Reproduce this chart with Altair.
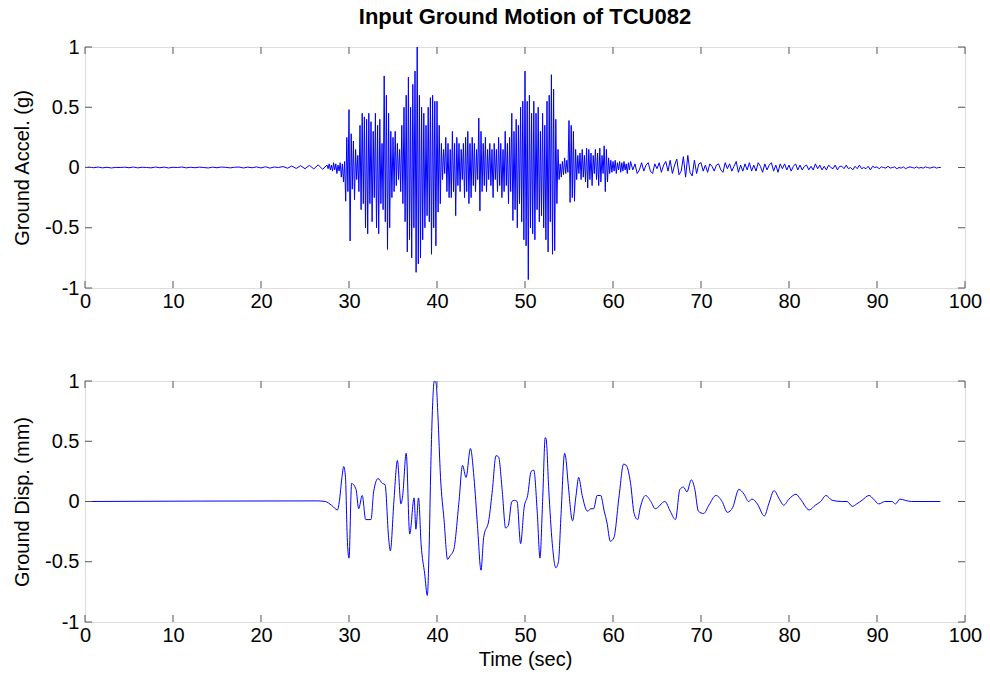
import altair as alt
import numpy as np
import pandas as pd

FONT = "Liberation Sans"

# ---- Ground acceleration (g) ----
# 0 .. 27.0 s, sampled every 0.5 s
acc_pre = [0.0, 0.003, -0.002, 0.004, -0.003, 0.002, -0.004, 0.001, 0.0, 0.003,
           -0.002, 0.004, -0.003, 0.002, 0.0, -0.003, 0.004, -0.002, 0.003, -0.004,
           0.002, 0.0, 0.004, -0.003, 0.002, -0.002, 0.003, 0.0, -0.004, 0.003,
           -0.002, 0.004, 0.001, -0.003, 0.002, 0.004, -0.004, 0.003, -0.002, 0.005,
           -0.004, 0.006, -0.005, 0.004, 0.0, 0.008, -0.006, 0.012, -0.008, 0.015,
           -0.01, 0.018, -0.012, 0.022, -0.015]
# 27.5 .. 61.875 s, sampled every 0.125 s
acc_main = [0.02, -0.01, 0.03, -0.02,
            0.02, -0.03, 0.04, -0.02, 0.03, -0.05, 0.02, -0.03,
            0.04, -0.08, 0.03, -0.12, 0.05, -0.28, 0.25, -0.2,
            0.48, -0.61, 0.28, -0.18, 0.22, -0.27, 0.15, -0.1,
            0.1, -0.2, 0.35, -0.35, 0.45, -0.3, 0.42, -0.5,
            0.4, -0.55, 0.45, -0.3, 0.38, -0.45, 0.3, -0.25,
            0.45, -0.5, 0.35, -0.55, 0.4, -0.3, 0.2, -0.35,
            0.76, -0.45, 0.6, -0.68, 0.45, -0.5, 0.3, -0.25,
            0.25, -0.2, 0.3, -0.15, 0.2, -0.1, 0.15, -0.2,
            0.35, -0.3, 0.5, -0.45, 0.6, -0.7, 0.75, -0.6,
            0.5, -0.75, 0.69, -0.5, 0.8, -0.87, 1.0, -0.8,
            0.6, -0.75, 0.5, -0.6, 0.45, -0.5, 0.35, -0.4,
            0.5, -0.45, 0.58, -0.72, 0.6, -0.5, 0.55, -0.65,
            0.55, -0.37, 0.35, -0.3, 0.2, -0.1, 0.15, -0.05,
            0.25, -0.2, 0.2, -0.25, 0.15, -0.25, 0.3, -0.2,
            0.2, -0.4, 0.25, -0.15, 0.2, -0.2, 0.15, -0.1,
            0.2, -0.25, 0.25, -0.2, 0.3, -0.3, 0.2, -0.25,
            0.25, -0.15, 0.2, -0.2, 0.15, -0.1, 0.41, -0.36,
            0.3, -0.2, 0.2, -0.15, 0.25, -0.2, 0.15, -0.1,
            0.2, -0.15, 0.15, -0.25, 0.2, -0.1, 0.15, -0.2,
            0.25, -0.15, 0.2, -0.25, 0.15, -0.2, 0.3, -0.15,
            0.2, -0.3, 0.25, -0.2, 0.45, -0.44, 0.3, -0.35,
            0.4, -0.5, 0.35, -0.3, 0.5, -0.45, 0.55, -0.6,
            0.8, -0.65, 0.55, -0.93, 0.6, -0.5, 0.45, -0.55,
            0.55, -0.6, 0.45, -0.35, 0.5, -0.45, 0.3, -0.4,
            0.45, -0.5, 0.35, -0.6, 0.55, -0.7, 0.6, -0.45,
            0.77, -0.72, 0.65, -0.69, 0.4, -0.3, 0.15, -0.1,
            0.03, -0.08, 0.05, -0.06, 0.08, -0.05, 0.06, -0.04,
            0.39, -0.29, 0.35, -0.25, 0.3, -0.28, 0.15, -0.1,
            0.1, -0.05, 0.12, -0.1, 0.15, -0.08, 0.1, -0.12,
            0.16, -0.17, 0.15, -0.1, 0.12, -0.15, 0.1, -0.05,
            0.15, -0.1, 0.12, -0.15, 0.16, -0.12, 0.1, -0.05,
            0.18, -0.2, 0.15, -0.12, 0.08, -0.05, 0.06, -0.04,
            0.05, -0.03, 0.06, -0.05, 0.04, -0.02, 0.05, -0.04,
            0.04, -0.03, 0.05, -0.02, 0.03, -0.05, 0.04, -0.02]
# 62.0 .. 97.25 s, sampled every 0.25 s
acc_tail = [0.05, -0.02, 0.03, -0.05, -0.02, 0.04, -0.03, 0.02,
            0.04, -0.03, -0.05, 0.03, -0.01, 0.04, -0.04, 0.02,
            0.05, -0.03, 0.06, -0.05, 0.02, 0.07, -0.06, -0.03,
            0.09, -0.08, 0.1, -0.04, -0.07, 0.06, -0.05, 0.03,
            0.04, -0.03, 0.02, -0.04, 0.03, 0.01, -0.03, 0.02,
            0.03, -0.02, -0.04, 0.04, -0.01, 0.03, -0.03, 0.01,
            0.05, -0.04, 0.02, -0.03, 0.03, -0.02, 0.04, -0.03,
            0.02, -0.03, 0.04, 0.01, -0.04, 0.03, -0.02, 0.02,
            0.04, -0.03, 0.02, -0.04, 0.03, -0.01, 0.03, -0.02,
            0.02, -0.03, 0.01, 0.03, -0.02, 0.02, -0.02, 0.01,
            0.02, -0.02, 0.01, -0.02, 0.03, -0.01, 0.02, -0.02,
            0.01, -0.02, 0.02, 0.0, -0.01, 0.02, -0.02, 0.01,
            0.01, -0.01, 0.02, -0.01, 0.0, -0.02, 0.01, -0.01,
            0.02, -0.01, 0.0, -0.01, 0.01, -0.02, 0.01, 0.0,
            0.005, -0.01, 0.005, 0.0, -0.005, 0.01, -0.005, 0.0,
            0.005, -0.01, 0.0, -0.005, 0.005, -0.01, 0.0, 0.005,
            0.0, -0.005, 0.005, -0.005, 0.0, -0.005, 0.005, 0.0,
            -0.005, 0.0, 0.005, -0.005, 0.0, 0.0]

# ---- Ground displacement (mm) ----
disp_t = [0, 26.4, 27.3, 28.0, 28.7, 28.9, 29.2, 29.4, 29.6, 29.8,
          30.0, 30.3, 30.8, 31.1, 31.5, 31.9, 32.5, 32.8, 33.3, 33.8,
          34.1, 34.5, 34.7, 35.1, 35.5, 35.9, 36.1, 36.5, 36.9, 37.4,
          37.6, 37.9, 38.2, 38.6, 38.9, 39.1, 39.3, 39.5, 39.7, 39.9,
          40.1, 40.4, 40.8, 41.2, 41.5, 41.9, 42.5, 42.9, 43.3, 43.8,
          44.2, 44.6, 45.0, 45.3, 45.9, 46.3, 46.7, 47.0, 47.4, 47.8,
          48.1, 48.5, 48.8, 49.1, 49.5, 49.9, 50.3, 50.7, 51.0, 51.4,
          51.7, 52.0, 52.3, 52.4, 52.7, 53.1, 53.5, 53.8, 54.1, 54.5,
          54.6, 54.9, 55.4, 55.8, 56.1, 56.5, 57.1, 57.5, 57.8, 58.2,
          58.6, 59.0, 59.3, 59.7, 60.1, 60.7, 61.2, 61.5, 62.0, 62.4,
          62.8, 63.1, 63.7, 64.3, 64.8, 65.9, 66.5, 67.1, 67.6, 68.0,
          68.4, 68.9, 69.3, 69.7, 70.3, 70.9, 71.7, 72.4, 73.0, 73.6,
          74.3, 74.9, 75.4, 75.8, 76.4, 77.2, 77.7, 78.3, 78.9, 79.4,
          80.0, 80.8, 81.3, 82.3, 83.0, 83.6, 84.2, 84.9, 86.0, 86.6,
          87.2, 87.7, 88.3, 89.1, 89.6, 90.2, 90.9, 91.7, 92.1, 92.6,
          93.2, 93.9, 95.0, 97.2]
disp_v = [0.0, 0.005, 0.0, -0.03, -0.07, 0.0, 0.2, 0.29, 0.2, -0.3,
          -0.47, 0.15, 0.1, -0.06, 0.05, -0.15, -0.15, 0.08, 0.19, 0.15,
          0.14, -0.3, -0.41, 0.0, 0.34, -0.02, 0.05, 0.4, -0.27, 0.03,
          -0.23, 0.03, -0.36, -0.6, -0.78, -0.4, 0.3, 0.8, 1.0, 0.98,
          0.72, 0.2, -0.15, -0.48, -0.45, -0.4, 0.0, 0.3, 0.2, 0.44,
          0.2, -0.2, -0.57, -0.3, -0.15, 0.1, 0.38, 0.37, 0.1, -0.22,
          -0.2, 0.0, 0.01, 0.0, -0.35, -0.05, 0.05, 0.25, 0.26, -0.1,
          -0.47, 0.0, 0.53, 0.52, 0.1, -0.35, -0.55, -0.5, -0.1, 0.4,
          0.38, 0.15, -0.16, 0.05, 0.2, 0.05, -0.08, -0.06, -0.06, 0.05,
          0.05, -0.08, -0.17, -0.33, -0.3, 0.05, 0.31, 0.3, 0.15, -0.1,
          -0.15, -0.05, 0.05, 0.0, -0.06, 0.0, -0.08, -0.15, 0.1, 0.12,
          0.08, 0.18, 0.1, -0.08, -0.1, -0.03, 0.05, 0.0, -0.09, -0.05,
          0.1, 0.06, 0.0, 0.02, -0.02, -0.12, -0.02, 0.09, 0.02, -0.03,
          0.02, 0.06, 0.02, -0.07, -0.03, 0.0, 0.05, 0.01, 0.0, 0.0,
          -0.04, -0.02, 0.01, 0.05, 0.02, -0.02, 0.0, 0.0, -0.02, 0.02,
          0.01, 0.0, 0.0, 0.0]

x_ticks = [0, 10, 20, 30, 40, 50, 60, 70, 80, 90, 100]
y_ticks = [-1, -0.5, 0, 0.5, 1]

# time stamps of the acceleration record (three sampling segments)
acc_t = np.concatenate([
    0.0 + 0.5 * np.arange(len(acc_pre)),
    27.5 + 0.125 * np.arange(len(acc_main)),
    62.0 + 0.25 * np.arange(len(acc_tail)),
])
acc_df = pd.DataFrame({"t": acc_t, "v": acc_pre + acc_main + acc_tail})
disp_df = pd.DataFrame({"t": disp_t, "v": disp_v})
xt_df = pd.DataFrame({"t": x_ticks})
yt_df = pd.DataFrame({"v": y_ticks})

W, H = 880, 241
TICK = 7
LBL = 20


def panel(df, ytitle, xtitle, interp, title=None):
    xaxis = alt.Axis(values=x_ticks, ticks=False, domain=False, grid=False,
                     labelFont=FONT, labelFontSize=LBL, labelColor="black",
                     labelPadding=3, labelFlush=False, labelExpr="'' + datum.value",
                     title=xtitle if xtitle else "", titleFont=FONT, titleFontSize=LBL,
                     titleFontWeight="normal", titleColor="black", titlePadding=4)
    yaxis = alt.Axis(values=y_ticks, ticks=False, domain=False, grid=False,
                     labelFont=FONT, labelFontSize=LBL, labelColor="black",
                     labelPadding=6, labelFlush=False, labelExpr="'' + datum.value",
                     title=ytitle, titleFont=FONT, titleFontSize=LBL,
                     titleFontWeight="normal", titleColor="black", titlePadding=12)
    xs = alt.Scale(domain=[0, 100], nice=False, zero=False)
    ys = alt.Scale(domain=[-1, 1], nice=False, zero=False)
    line = alt.Chart(df).mark_line(color="#0000ff", strokeWidth=1, clip=True,
                                   interpolate=interp).encode(
        x=alt.X("t:Q", scale=xs, axis=xaxis),
        y=alt.Y("v:Q", scale=ys, axis=yaxis),
    )
    tk = dict(color="#555555", strokeWidth=1)
    tb = alt.Chart(xt_df).mark_rule(**tk).encode(
        x=alt.X("t:Q", scale=xs), y=alt.value(H), y2=alt.value(H - TICK))
    tt = alt.Chart(xt_df).mark_rule(**tk).encode(
        x=alt.X("t:Q", scale=xs), y=alt.value(0), y2=alt.value(TICK))
    tl = alt.Chart(yt_df).mark_rule(**tk).encode(
        y=alt.Y("v:Q", scale=ys), x=alt.value(0), x2=alt.value(TICK))
    tr = alt.Chart(yt_df).mark_rule(**tk).encode(
        y=alt.Y("v:Q", scale=ys), x=alt.value(W - TICK), x2=alt.value(W))
    props = dict(width=W, height=H)
    if title is not None:
        props["title"] = alt.TitleParams(title, font=FONT, fontSize=22,
                                         fontWeight="bold", color="black",
                                         anchor="middle", frame="group", offset=8)
    return alt.layer(line, tb, tt, tl, tr).properties(**props)


top = panel(acc_df, "Ground Accel. (g)", None, "linear",
            title="Input Ground Motion of TCU082")
bottom = panel(disp_df, "Ground Disp. (mm)", "Time (sec)", "monotone")

chart = alt.vconcat(top, bottom, spacing=93, bounds="flush").properties(
    padding={"left": 12, "top": 5, "right": 5, "bottom": 5}
).configure_view(stroke="black", strokeWidth=1).configure(background="white")

chart.save("out.html", embed_options={"renderer": "svg", "actions": False})
